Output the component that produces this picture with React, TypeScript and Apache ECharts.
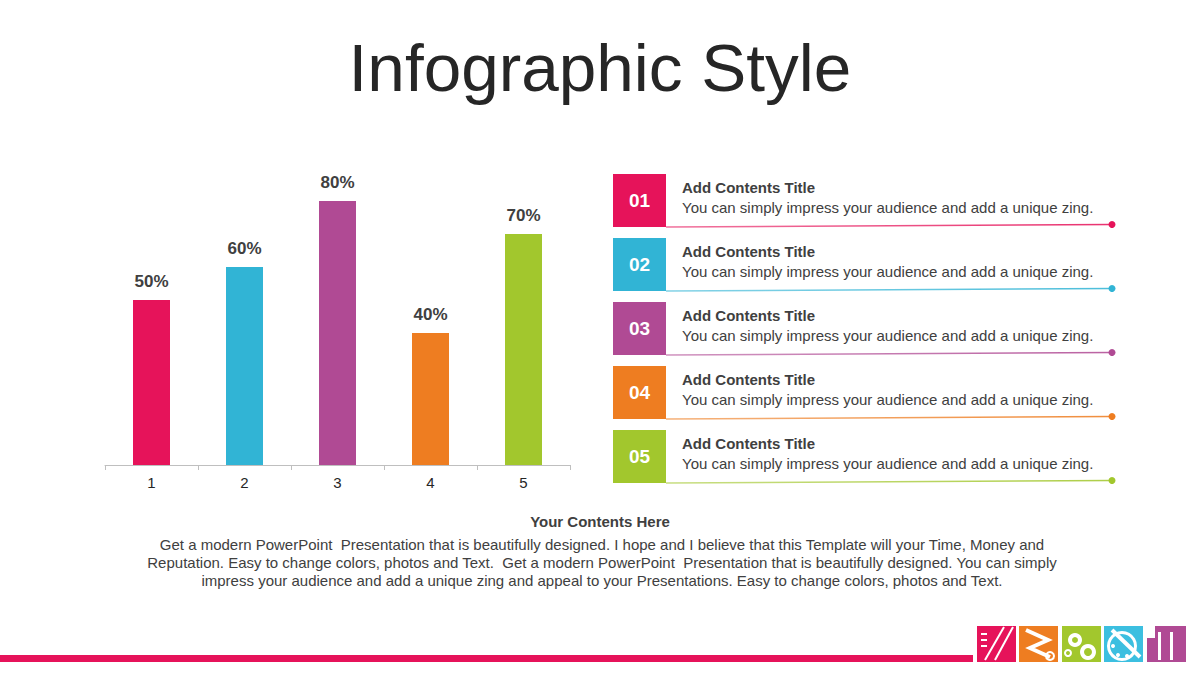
import React, { useEffect, useRef } from "react";
import * as echarts from "echarts";

const categories = ["1", "2", "3", "4", "5"];
const values = [50, 60, 80, 40, 70];
const colors = ["#e6135a", "#31b4d5", "#b04a94", "#ee7d21", "#a2c72d"];
const rowNumbers = ["01", "02", "03", "04", "05"];
const rowTitles = ["Add Contents Title", "Add Contents Title", "Add Contents Title", "Add Contents Title", "Add Contents Title"];
const rowTexts = [
  "You can simply impress your audience and add a unique zing.",
  "You can simply impress your audience and add a unique zing.",
  "You can simply impress your audience and add a unique zing.",
  "You can simply impress your audience and add a unique zing.",
  "You can simply impress your audience and add a unique zing.",
];
const mainTitle = "Infographic Style";
const footTitle = "Your Contents Here";
const footLines = [
  "Get a modern PowerPoint  Presentation that is beautifully designed. I hope and I believe that this Template will your Time, Money and",
  "Reputation. Easy to change colors, photos and Text.  Get a modern PowerPoint  Presentation that is beautifully designed. You can simply",
  "impress your audience and add a unique zing and appeal to your Presentations. Easy to change colors, photos and Text.",
];

const FONT = "'Liberation Sans', Arial, sans-serif";

export default function App() {
  const ref = useRef<HTMLDivElement>(null);
  useEffect(() => {
    document.body.style.margin = "0";
    if (!ref.current) return;
    const chart = echarts.init(ref.current, null, { renderer: "svg" });

    const graphics: any[] = [];
    graphics.push({
      type: "text",
      left: "center",
      top: 33,
      style: { text: mainTitle, font: `67.5px ${FONT}`, fill: "#262626" },
    });

    rowNumbers.forEach((n, i) => {
      const y0 = 174 + i * 64;
      const c = colors[i];
      graphics.push({ type: "rect", shape: { x: 613, y: y0, width: 53, height: 53 }, style: { fill: c } });
      graphics.push({
        type: "text",
        x: 639.5,
        y: y0 + 26,
        style: { text: n, font: `bold 19px ${FONT}`, fill: "#ffffff", align: "center", verticalAlign: "middle" },
      });
      graphics.push({
        type: "text",
        x: 682,
        y: y0 + 13.5,
        style: { text: rowTitles[i], font: `bold 15px ${FONT}`, fill: "#404040", verticalAlign: "middle" },
      });
      graphics.push({
        type: "text",
        x: 682,
        y: y0 + 33.5,
        style: { text: rowTexts[i], font: `15px ${FONT}`, fill: "#404040", verticalAlign: "middle" },
      });
      graphics.push({
        type: "line",
        shape: { x1: 666, y1: y0 + 53, x2: 1112, y2: y0 + 50.5 },
        style: {
          stroke: new echarts.graphic.LinearGradient(0, 0, 1, 0, [
            { offset: 0, color: c + "99" },
            { offset: 1, color: c + "dd" },
          ]),
          lineWidth: 1.5,
        },
      });
      graphics.push({ type: "circle", shape: { cx: 1112, cy: y0 + 50.5, r: 3.5 }, style: { fill: c } });
    });

    graphics.push({
      type: "text",
      x: 600,
      y: 521,
      style: { text: footTitle, font: `bold 15px ${FONT}`, fill: "#404040", align: "center", verticalAlign: "middle" },
    });
    footLines.forEach((t, i) => {
      graphics.push({
        type: "text",
        x: 602,
        y: 544 + i * 18,
        style: { text: t, font: `15px ${FONT}`, fill: "#404040", align: "center", verticalAlign: "middle" },
      });
    });

    // bottom bar
    graphics.push({ type: "rect", shape: { x: 0, y: 655, width: 973, height: 7 }, style: { fill: "#e6135a" } });
    // logo blocks
    const logoX = [977, 1019, 1062, 1104, 1147];
    const logoC = ["#e6135a", "#ee7d21", "#a2c72d", "#3cbfe0", "#b04a94"];
    logoX.forEach((x, i) => {
      graphics.push({ type: "rect", shape: { x, y: 626, width: 39, height: 36 }, style: { fill: logoC[i] } });
    });
    // white details
    graphics.push({ type: "line", shape: { x1: 985, y1: 660, x2: 1004, y2: 627 }, style: { stroke: "#fff", lineWidth: 2 } });
    graphics.push({ type: "line", shape: { x1: 995, y1: 660, x2: 1013, y2: 627 }, style: { stroke: "#fff", lineWidth: 2 } });
    graphics.push({ type: "rect", shape: { x: 981, y: 633, width: 6, height: 2 }, style: { fill: "#fff" } });
    graphics.push({ type: "rect", shape: { x: 981, y: 639, width: 6, height: 2 }, style: { fill: "#fff" } });
    graphics.push({ type: "rect", shape: { x: 981, y: 645, width: 6, height: 2 }, style: { fill: "#fff" } });
    graphics.push({ type: "polyline", shape: { points: [[1026, 630], [1048, 640], [1030, 648], [1050, 657]] }, style: { stroke: "#fff", lineWidth: 4, fill: "none" } });
    graphics.push({ type: "circle", shape: { cx: 1050, cy: 656, r: 4 }, style: { stroke: "#fff", lineWidth: 2, fill: "none" } });
    graphics.push({ type: "ring", shape: { cx: 1075, cy: 640, r: 7, r0: 3 }, style: { fill: "#fff" } });
    graphics.push({ type: "ring", shape: { cx: 1088, cy: 652, r: 8, r0: 4 }, style: { fill: "#fff" } });
    graphics.push({ type: "ring", shape: { cx: 1068, cy: 653, r: 4, r0: 2 }, style: { fill: "#fff" } });
    graphics.push({ type: "ring", shape: { cx: 1122, cy: 646, r: 15, r0: 12 }, style: { fill: "#fff" } });
    graphics.push({ type: "circle", shape: { cx: 1113, cy: 646, r: 2 }, style: { fill: "#fff" } });
    graphics.push({ type: "circle", shape: { cx: 1118, cy: 655, r: 2 }, style: { fill: "#fff" } });
    graphics.push({ type: "circle", shape: { cx: 1127, cy: 656, r: 2 }, style: { fill: "#fff" } });
    graphics.push({ type: "line", shape: { x1: 1112, y1: 630, x2: 1140, y2: 657 }, style: { stroke: "#fff", lineWidth: 4 } });
    graphics.push({ type: "rect", shape: { x: 1158, y: 632, width: 3, height: 28 }, style: { fill: "#fff" } });
    graphics.push({ type: "rect", shape: { x: 1170, y: 632, width: 3, height: 28 }, style: { fill: "#fff" } });
    graphics.push({ type: "rect", shape: { x: 1147, y: 626, width: 8, height: 12 }, style: { fill: "#fff" } });

    chart.setOption({
      animation: false,
      backgroundColor: "#ffffff",
      grid: { left: 105, right: 630, top: 135, bottom: 210, containLabel: false },
      xAxis: {
        type: "category",
        data: categories,
        axisLine: { lineStyle: { color: "#bfbfbf", width: 1 } },
        axisTick: { show: true, length: 5, lineStyle: { color: "#bfbfbf" } },
        axisLabel: { color: "#262626", fontSize: 15, fontFamily: FONT, margin: 10 },
      },
      yAxis: {
        type: "value",
        min: 0,
        max: 100,
        show: false,
        splitLine: { show: false },
      },
      series: [
        {
          type: "bar",
          data: values.map((v, i) => ({ value: v, itemStyle: { color: colors[i] } })),
          barWidth: 37,
          label: {
            show: true,
            position: "top",
            distance: 10,
            formatter: "{c}%",
            color: "#404040",
            fontSize: 17,
            fontWeight: "bold",
            fontFamily: FONT,
          },
        },
      ],
      graphic: graphics,
    });
    return () => chart.dispose();
  }, []);
  return <div ref={ref} style={{ width: 1200, height: 675 }} />;
}
